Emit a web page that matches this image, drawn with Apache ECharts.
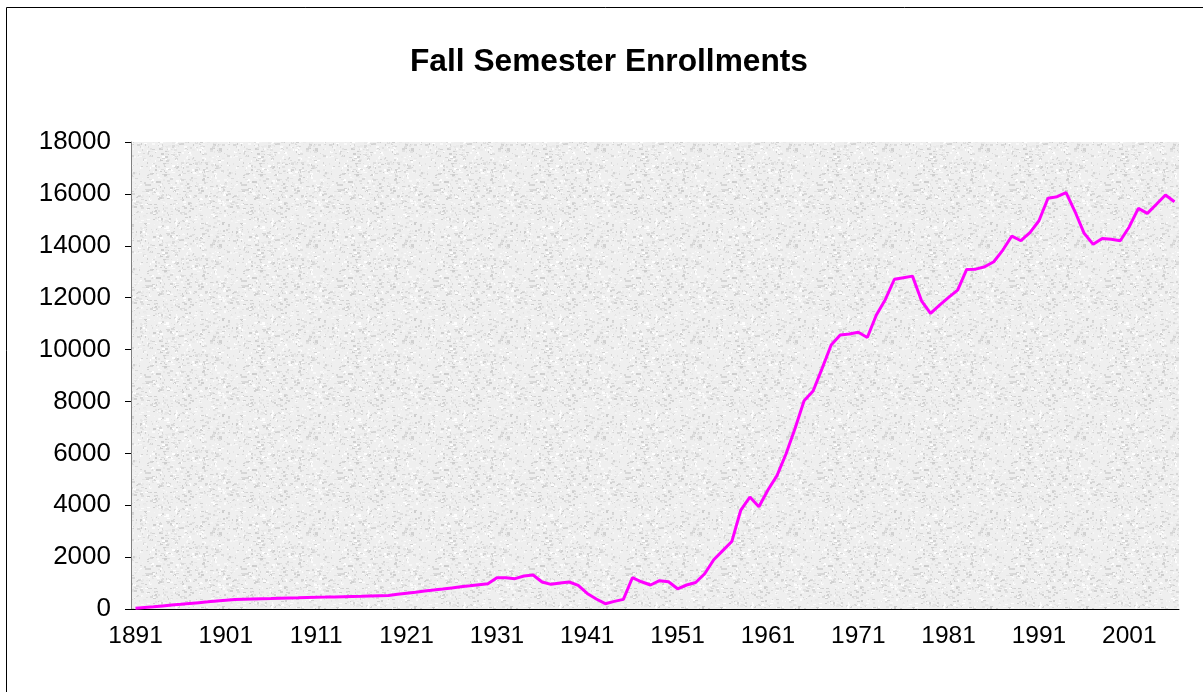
<!DOCTYPE html>
<html>
<head>
<meta charset="utf-8">
<script src="https://cdn.jsdelivr.net/npm/echarts@6/dist/echarts.min.js"></script>
<style>
  html, body { margin: 0; padding: 0; background: #fff; }
  #chart { width: 1203px; height: 692px; }
</style>
</head>
<body>
<div id="chart"></div>
<script>
// fall enrollments, one value per year 1891..2006
const years = [];
for (let y = 1891; y <= 2006; y++) years.push(String(y));

const enrollments = [
  25, 55, 85, 120, 150, 180, 215, 245, 275, 310,          // 1891-1900
  340, 370, 380, 390, 398, 406, 415, 424, 432, 441,       // 1901-1910
  450, 458, 467, 476, 485, 493, 502, 511, 520, 569,       // 1911-1920
  610, 650, 691, 732, 772, 813, 854, 894, 935, 975,       // 1921-1930
  1206, 1206, 1170, 1270, 1310, 1040, 950, 1000, 1040, 910, // 1931-1940
  600, 385, 205, 295, 370, 1206, 1050, 925, 1090, 1050,   // 1941-1950
  780, 925, 1020, 1360, 1900, 2250, 2600, 3815, 4316, 3943, // 1951-1960
  4586, 5140, 5975, 6960, 8030, 8400, 9275, 10175, 10560, 10600, // 1961-1970
  10665, 10465, 11330, 11930, 12710, 12770, 12830, 11880, 11395, 11715, // 1971-1980
  12010, 12290, 13090, 13100, 13190, 13385, 13835, 14375, 14195, 14510, // 1981-1990
  14965, 15830, 15890, 16045, 15310, 14480, 14055, 14285, 14250, 14195, // 1991-2000
  14735, 15440, 15250, 15600, 15955, 15700                // 2001-2006
];

const yTicks = [0, 2000, 4000, 6000, 8000, 10000, 12000, 14000, 16000, 18000];

// grey speckle texture like the excel plot area fill
function makeTexture() {
  const c = document.createElement('canvas');
  c.width = 96; c.height = 96;
  const ctx = c.getContext('2d');
  ctx.fillStyle = '#efefef';
  ctx.fillRect(0, 0, 96, 96);
  let seed = 12345;
  const next = () => { seed = (seed * 1103515245 + 12345) & 0x7fffffff; return seed / 0x7fffffff; };
  for (let i = 0; i < 1200; i++) {
    const g = Math.round(205 + next() * 50);
    ctx.fillStyle = 'rgb(' + g + ',' + g + ',' + g + ')';
    ctx.fillRect(Math.floor(next() * 96), Math.floor(next() * 96), 1 + Math.floor(next() * 3), 1 + Math.floor(next() * 2));
  }
  return c;
}

const chart = echarts.init(document.getElementById('chart'));

const option = {
  animation: false,
  title: {
    text: 'Fall Semester Enrollments',
    left: 405,
    top: 41,
    textStyle: {
      fontFamily: 'Liberation Sans, Arial, sans-serif',
      fontSize: 31.7,
      fontWeight: 'bold',
      color: '#000'
    }
  },
  graphic: [{
    type: 'rect',
    shape: { x: 6.5, y: 7.5, width: 1220, height: 720 },
    style: { fill: 'none', stroke: '#000', lineWidth: 1 },
    silent: true
  }],
  grid: {
    left: 131,
    top: 142,
    right: 24,
    bottom: 83,
    show: true,
    borderWidth: 0,
    backgroundColor: { image: makeTexture(), repeat: 'repeat' }
  },
  xAxis: {
    type: 'category',
    data: years,
    boundaryGap: true,
    axisLine: { lineStyle: { color: '#000', width: 1 } },
    axisTick: {
      interval: 0,
      length: 6,
      lineStyle: { color: '#000' }
    },
    axisLabel: {
      interval: 9,
      margin: 15,
      fontFamily: 'Liberation Sans, Arial, sans-serif',
      fontSize: 24.5,
      color: '#000'
    },
    splitLine: { show: false }
  },
  yAxis: {
    type: 'value',
    min: 0,
    max: yTicks[yTicks.length - 1],
    interval: yTicks[1] - yTicks[0],
    axisLine: { show: true, lineStyle: { color: '#808080', width: 1 } },
    axisTick: { show: true, length: 6, lineStyle: { color: '#000' } },
    axisLabel: {
      margin: 20,
      fontFamily: 'Liberation Sans, Arial, sans-serif',
      fontSize: 26,
      color: '#000',
      formatter: (v) => String(v)
    },
    splitLine: { show: false }
  },
  series: [{
    name: 'Enrollment',
    type: 'line',
    data: enrollments,
    showSymbol: false,
    lineStyle: { color: '#ff00ff', width: 3 },
    itemStyle: { color: '#ff00ff' }
  }]
};

chart.setOption(option);
</script>
</body>
</html>
